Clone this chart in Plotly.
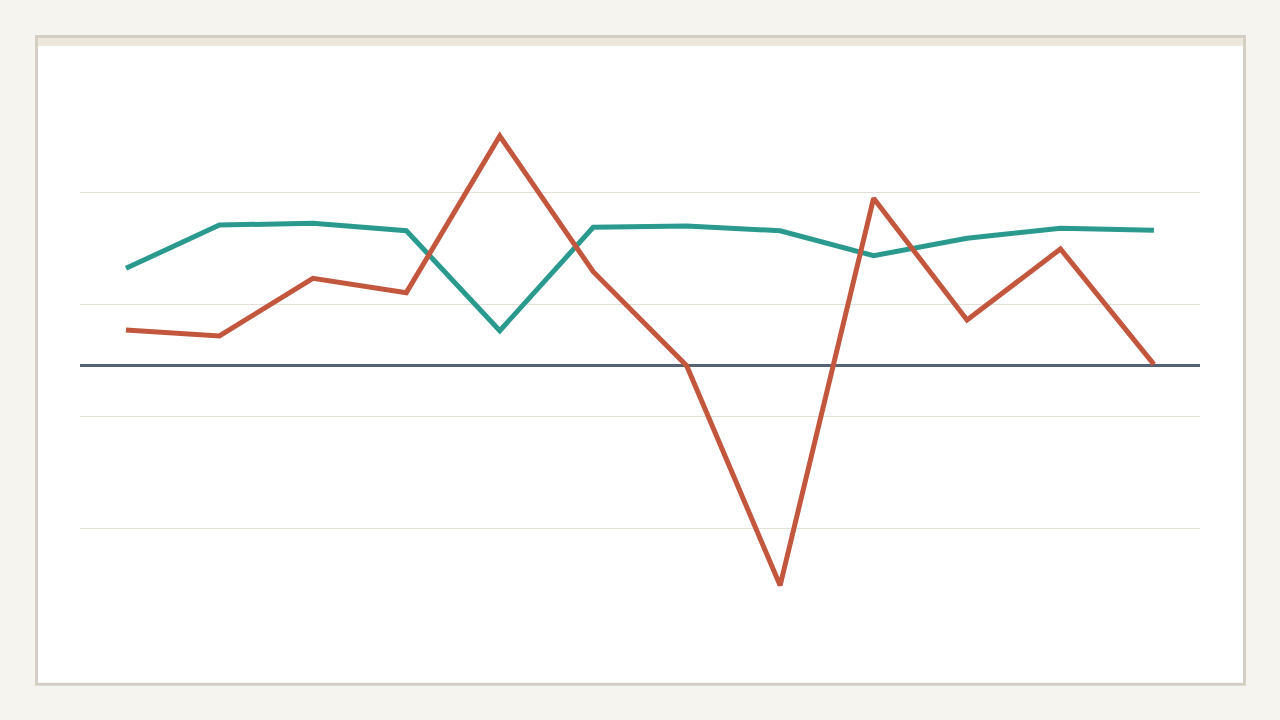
import plotly.graph_objects as go

periods = list(range(12))
teal_values = [8.63, 12.5, 12.65, 11.99, 3.06, 12.29, 12.41, 11.99, 9.76, 11.31, 12.21, 12.03]
red_values = [3.13, 2.59, 7.74, 6.46, 20.45, 8.33, -0.06, -19.69, 14.88, 4.02, 10.36, 0.06]

W, H = 1280, 720
L, R, T, B = 80, 80, 90, 90
PW, PH = W - L - R, H - T - B

def px(x):
    return (x - L) / PW

def py(y):
    return (H - B - y) / PH

fig = go.Figure()
fig.add_trace(go.Scatter(x=periods, y=teal_values, mode="lines",
                         line=dict(color="#2a9a8f", width=5), hoverinfo="skip"))
fig.add_trace(go.Scatter(x=periods, y=red_values, mode="lines",
                         line=dict(color="#c2573e", width=5), hoverinfo="skip"))

shapes = [
    dict(type="rect", xref="paper", yref="paper", layer="below",
         x0=px(36.5), x1=px(1244.5), y0=py(684.2), y1=py(36.5),
         fillcolor="#ffffff", line=dict(color="#d3cfc4", width=3)),
    dict(type="rect", xref="paper", yref="paper", layer="below",
         x0=px(38), x1=px(1243), y0=py(46), y1=py(38),
         fillcolor="#ece8de", line=dict(width=0)),
]

fig.update_layout(
    width=W, height=H,
    margin=dict(l=L, r=R, t=T, b=B),
    paper_bgcolor="#f5f4ef",
    plot_bgcolor="rgba(0,0,0,0)",
    showlegend=False,
    shapes=shapes,
    xaxis=dict(range=[-0.492, 11.493], showgrid=False, zeroline=False,
               showticklabels=False, ticks="", showline=False),
    yaxis=dict(range=[(365 - 630) / 11.2, (365 - 90) / 11.2],
               tick0=5.446, dtick=10, showgrid=True, gridcolor="#e3e1d7", gridwidth=1,
               zeroline=True, zerolinecolor="#566173", zerolinewidth=2.5,
               showticklabels=False, ticks="", showline=False),
)

fig.write_html("out.html", config={"displayModeBar": False},
               post_script="document.body.style.margin='0';document.body.style.background='#f5f4ef';")
